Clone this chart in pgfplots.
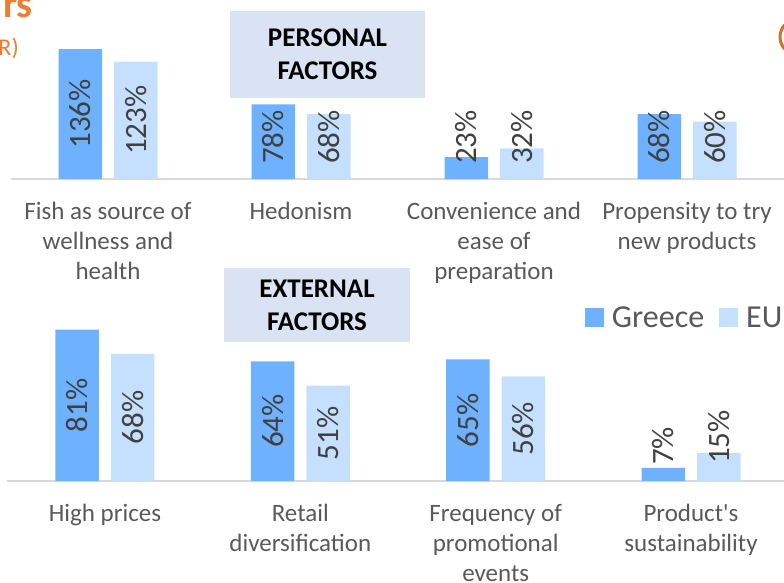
\documentclass[border=0pt]{standalone}
\usepackage{pgfplots}
\pgfplotsset{compat=1.18}
\usepackage{fontspec}
\setmainfont{Carlito}

\definecolor{greece}{HTML}{6EB1FF}
\definecolor{eu}{HTML}{C5E0FF}
\definecolor{boxfill}{HTML}{DAE3F3}
\definecolor{basegray}{HTML}{D9D9D9}
\definecolor{labgray}{HTML}{595959}
\definecolor{valgray}{HTML}{404040}
\definecolor{orng}{HTML}{ED7D31}

% common look of both bar panels; #1 = px per percent, #2 = min gap of label above baseline
\pgfplotsset{
  factorbars/.style 2 args={
    scale only axis,
    ybar=12pt, bar width=43.5pt,
    xmin=-0.5, xmax=3.5, ymin=0,
    xtick={0,1,2,3},
    axis x line=bottom, axis y line=none,
    axis line style={-, draw=basegray, line width=2pt},
    major tick length=0pt,
    xticklabel style={align=center, anchor=north, inner sep=0pt, yshift=-23pt,
      text=labgray, font=\fontsize{25}{30}\selectfont},
    clip=false,
    point meta=y,
    /pgf/number format/assume math mode=true,
    nodes near coords={\pgfmathprintnumber{\pgfplotspointmeta}\%},
    visualization depends on={y \as \rawy},
    every node near coord/.append style={
      anchor=center, inner sep=0pt, text=valgray,
      font=\fontsize{31}{36}\selectfont,
      yshift={max(\rawy*#1/2, #2 + (\rawy>=100 ? 34 : (\rawy>=10 ? 27 : 18))) - \rawy*#1},
      rotate=90},
  },
  sqlegend/.style={legend image code/.code={\fill[##1] (0pt,-9.5pt) rectangle (19pt,9.5pt);}},
}

\begin{document}
\begin{tikzpicture}[x=1pt,y=1pt]
\clip (0,0) rectangle (784,582);

% top panel: personal factors
\begin{axis}[factorbars={0.955}{15},
  at={(11.5pt,403pt)}, anchor=south west,
  width=772pt, height=179pt, ymax=187.4,
  xticklabels={{Fish as source of\\wellness and\\health},{Hedonism},
    {Convenience and\\ease of\\preparation},{Propensity to try\\new products}}]
\addplot[fill=greece, draw=none] coordinates {(0,136) (1,78) (2,23) (3,68)};
\addplot[fill=eu, draw=none] coordinates {(0,123) (1,68) (2,32) (3,60)};
\end{axis}

% bottom panel: external factors
\begin{axis}[factorbars={1.87}{17},
  at={(7.3pt,101pt)}, anchor=south west,
  width=781.4pt, height=187pt, ymax=100,
  xticklabels={{High prices},{Retail\\diversification},
    {Frequency of\\promotional\\events},{Product\textquotesingle s\\sustainability}},
  legend columns=2,
  legend style={at={(0.739,0.874)}, anchor=west, draw=none, fill=none,
    inner sep=0pt, text=labgray, font=\fontsize{32}{38}\selectfont,
    /tikz/every odd column/.append style={column sep=6pt},
    /tikz/every even column/.append style={column sep=13pt}}]
\addplot[fill=greece, draw=none, sqlegend] coordinates {(0,81) (1,64) (2,65) (3,7)};
\addplot[fill=eu, draw=none, sqlegend] coordinates {(0,68) (1,51) (2,56) (3,15)};
\legend{Greece, EU}
\end{axis}

% panel headings
\node[fill=boxfill, minimum width=195pt, minimum height=87pt, align=center,
  font=\bfseries\fontsize{27}{33}\selectfont] at (327.5,527.5) {PERSONAL\\FACTORS};
\node[fill=boxfill, minimum width=186pt, minimum height=74pt, align=center,
  font=\bfseries\fontsize{27}{33}\selectfont] at (317,277) {EXTERNAL\\FACTORS};

% cropped title remnants
\node[anchor=base east, inner sep=0pt, text=orng, font=\bfseries\fontsize{40}{48}\selectfont] at (33,564) {rs};
\node[anchor=base east, inner sep=0pt, text=orng, font=\fontsize{24}{29}\selectfont] at (19,526) {R)};
\draw[orng!90!black, line width=3pt] (798,545) circle (18);
\end{tikzpicture}
\end{document}
